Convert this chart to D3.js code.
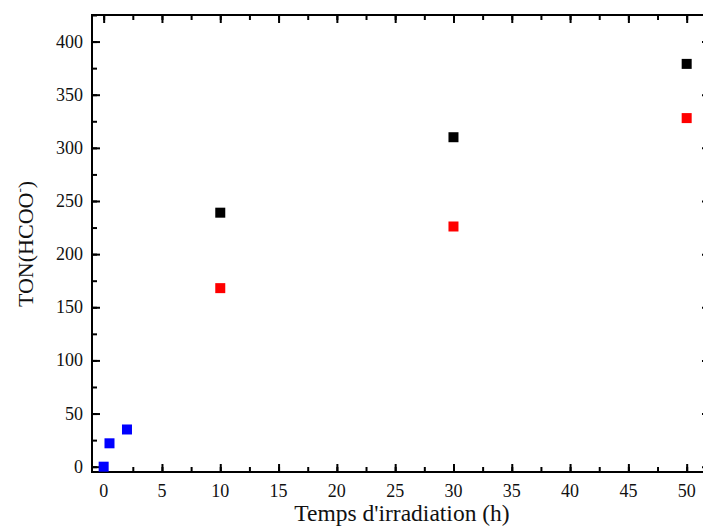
<!DOCTYPE html>
<html><head><meta charset="utf-8">
<script src="https://cdn.jsdelivr.net/npm/d3@7/dist/d3.min.js"></script>
<style>body{margin:0;background:#fff}svg{display:block}text{font-family:"Liberation Serif","DejaVu Serif",serif;fill:#111}</style>
</head><body><svg id="c" width="703" height="529"></svg>
<script>
const blackX = [10, 30, 50];
const blackY = [239, 310, 379];
const redX = [10, 30, 50];
const redY = [168, 226, 328];
const blueX = [0, 0.5, 2];
const blueY = [0, 22, 35];
const xTicks = [0,5,10,15,20,25,30,35,40,45,50];
const yTicks = [0,50,100,150,200,250,300,350,400];

const svg = d3.select("#c");
const L=92, R=710, T=15, B=472;
const x = d3.scaleLinear().domain([-1,52]).range([L,R]);
const y = d3.scaleLinear().domain([-5,425]).range([B,T]);

const xMinor = d3.range(0,52,2.5);
const yMinor = d3.range(0,426,25);

function axis(gen, tr, ticks, minor){
  const g = svg.append("g").attr("transform",tr);
  g.call(gen.tickValues(minor).tickSize(5).tickFormat(""));
  g.selectAll("path").remove();
  const g2 = svg.append("g").attr("transform",tr);
  g2.call(gen.tickValues(ticks).tickSize(8).tickFormat(""));
  g2.selectAll("path").remove();
  [g,g2].forEach(q=>q.selectAll("line").attr("stroke","#000").attr("stroke-width",2));
}
axis(d3.axisTop(x), `translate(0,${B})`, xTicks, xMinor);
axis(d3.axisBottom(x), `translate(0,${T})`, xTicks, xMinor);
axis(d3.axisRight(y), `translate(${L},0)`, yTicks, yMinor);
axis(d3.axisLeft(y), `translate(${R},0)`, yTicks, yMinor);

svg.append("g").selectAll("text").data(xTicks).join("text").attr("x",d=>x(d)).attr("y",B+25)
  .attr("text-anchor","middle").attr("font-size",18).text(d=>d);
svg.append("g").selectAll("text").data(yTicks).join("text").attr("x",L-9).attr("y",d=>y(d)+6)
  .attr("text-anchor","end").attr("font-size",18).text(d=>d);

svg.append("rect").attr("x",L).attr("y",T).attr("width",R-L).attr("height",B-T)
  .attr("fill","none").attr("stroke","#000").attr("stroke-width",2);

const s=10;
function series(xs,ys,col){
  svg.append("g").selectAll("rect").data(xs.map((d,i)=>[d,ys[i]])).join("rect")
    .attr("x",d=>x(d[0])-s/2).attr("y",d=>y(d[1])-s/2).attr("width",s).attr("height",s).attr("fill",col);
}
series(blackX,blackY,"#000");
series(redX,redY,"#ff0000");
series(blueX,blueY,"#0000ff");

svg.append("text").attr("x",402).attr("y",521).attr("text-anchor","middle").attr("font-size",23.5)
  .text("Temps d'irradiation (h)");
const yl = svg.append("text").attr("transform","translate(33,244) rotate(-90)").attr("text-anchor","middle").attr("font-size",22);
yl.append("tspan").text("TON(HCOO");
yl.append("tspan").attr("font-size",13).attr("dy",-9).text("-");
yl.append("tspan").attr("dy",9).text(")");
</script></body></html>
